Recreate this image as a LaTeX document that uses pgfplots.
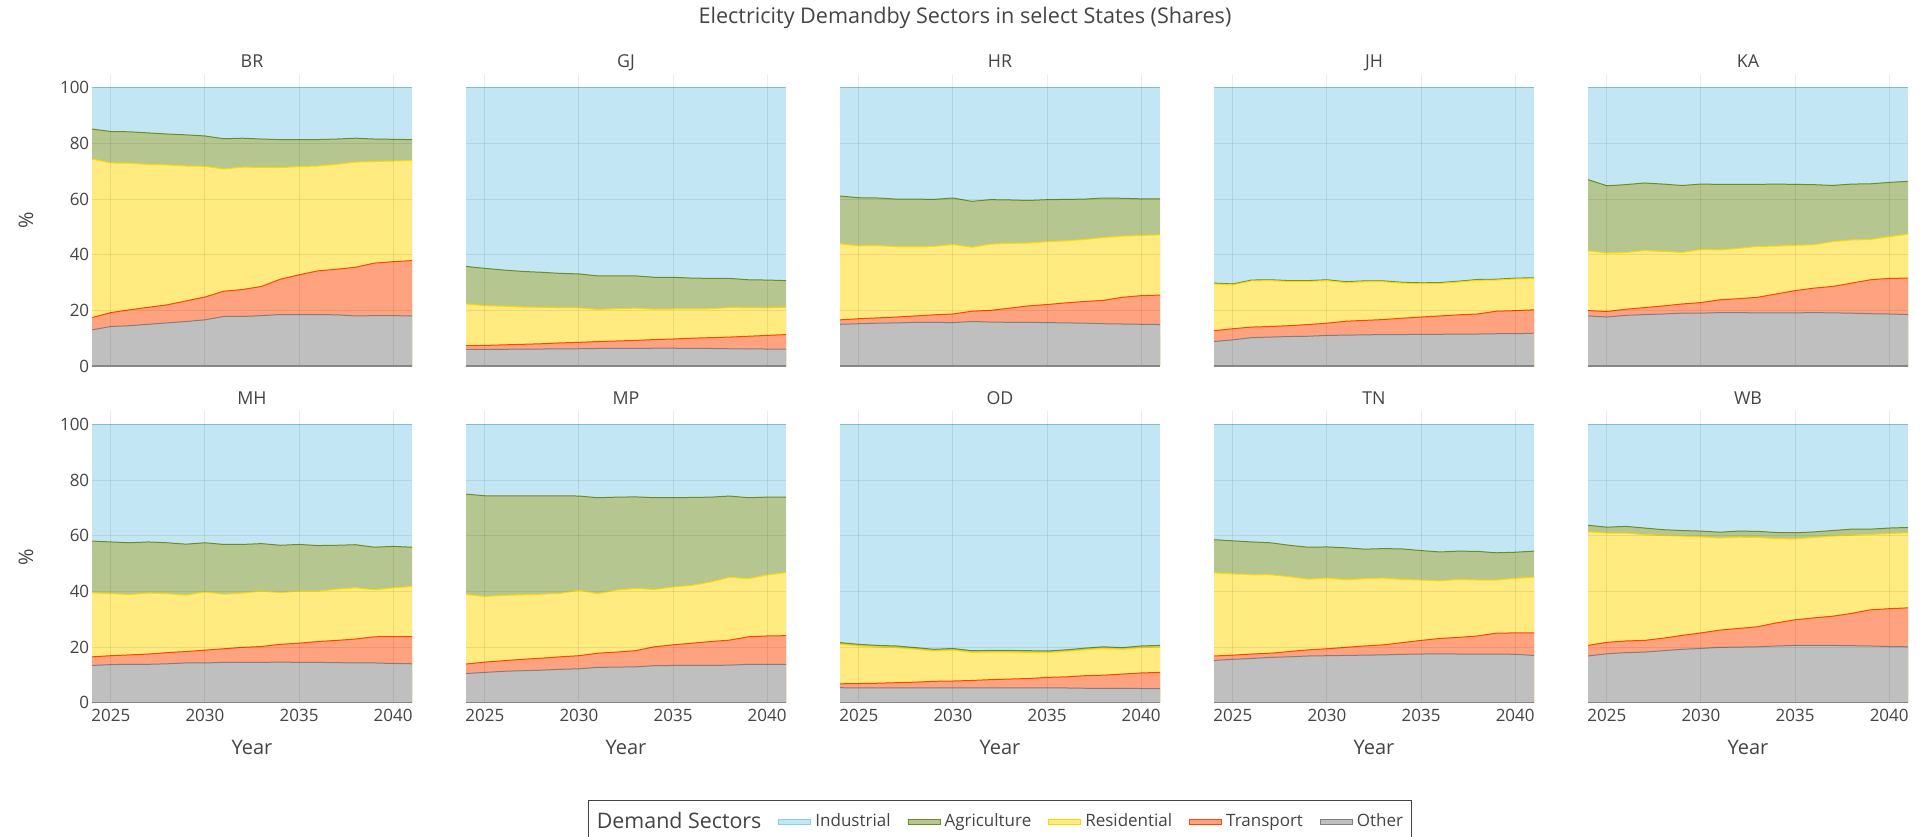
\documentclass[border=0pt]{standalone}
\usepackage{fontspec}
\setmainfont{Open Sans}
\usepackage{pgfplots}
\usepackage{pgfplotstable}
\pgfplotsset{compat=1.18}

\definecolor{indL}{HTML}{87CEEB}
\definecolor{agrL}{HTML}{6B8E23}
\definecolor{resL}{HTML}{FFD700}
\definecolor{traL}{HTML}{FF4500}
\definecolor{othL}{HTML}{808080}
\colorlet{indF}{indL!50!white}
\colorlet{agrF}{agrL!50!white}
\colorlet{resF}{resL!50!white}
\colorlet{traF}{traL!50!white}
\colorlet{othF}{othL!50!white}
\definecolor{txt}{HTML}{444444}

\newcommand{\fs}[1]{\fontsize{#1pt}{#1pt}\selectfont}

% cumulative shares (%): Other, +Transport, +Residential, +Agriculture; Industrial fills to 100
\pgfplotstableread{
yr oth tra res agr
2024 13.0 17.4 74.4 85.2
2025 14.2 19.2 73.0 84.3
2026 14.5 20.2 72.9 84.2
2027 15.0 21.1 72.5 83.8
2028 15.5 22.0 72.3 83.4
2029 16.0 23.4 71.9 83.1
2030 16.6 24.8 71.8 82.7
2031 17.8 26.9 70.8 81.7
2032 17.8 27.5 71.5 81.9
2033 18.1 28.6 71.4 81.6
2034 18.5 31.2 71.3 81.4
2035 18.5 32.8 71.7 81.4
2036 18.5 34.2 71.9 81.4
2037 18.4 34.8 72.5 81.6
2038 18.0 35.5 73.3 81.9
2039 18.1 37.0 73.5 81.6
2040 18.1 37.5 73.7 81.5
2041 18.0 37.9 73.9 81.4
}\BR
\pgfplotstableread{
yr oth tra res agr
2024 6.0 7.3 22.3 35.8
2025 6.0 7.4 21.7 35.1
2026 6.0 7.6 21.5 34.5
2027 6.1 7.8 21.2 34.0
2028 6.1 8.0 21.1 33.7
2029 6.2 8.3 20.9 33.3
2030 6.2 8.5 20.9 33.1
2031 6.3 8.8 20.3 32.4
2032 6.3 9.0 20.6 32.4
2033 6.3 9.2 20.8 32.4
2034 6.4 9.5 20.4 31.9
2035 6.4 9.7 20.5 31.9
2036 6.3 10.0 20.5 31.6
2037 6.3 10.2 20.6 31.5
2038 6.2 10.4 21.0 31.5
2039 6.2 10.7 20.9 31.0
2040 6.1 11.0 20.9 30.9
2041 6.1 11.3 21.1 30.7
}\GJ
\pgfplotstableread{
yr oth tra res agr
2024 15.0 16.6 43.9 61.1
2025 15.2 17.0 43.2 60.5
2026 15.4 17.3 43.3 60.4
2027 15.5 17.6 42.9 60.0
2028 15.7 18.0 42.9 60.0
2029 15.7 18.4 43.0 59.9
2030 15.6 18.7 43.7 60.4
2031 16.0 19.7 42.7 59.2
2032 15.8 20.0 43.8 59.8
2033 15.7 20.8 44.1 59.7
2034 15.7 21.6 44.2 59.5
2035 15.6 22.1 44.7 59.8
2036 15.5 22.7 45.0 59.9
2037 15.4 23.2 45.5 60.0
2038 15.2 23.6 46.2 60.4
2039 15.1 24.7 46.7 60.3
2040 15.0 25.3 46.9 60.1
2041 14.9 25.5 47.2 60.1
}\HR
\pgfplotstableread{
yr oth tra res agr
2024 8.8 12.7 29.5 29.8
2025 9.4 13.4 29.2 29.5
2026 10.2 14.0 30.6 30.9
2027 10.4 14.2 30.7 31.0
2028 10.6 14.5 30.4 30.7
2029 10.7 14.9 30.4 30.7
2030 11.0 15.4 30.7 31.0
2031 11.1 16.1 30.0 30.3
2032 11.2 16.4 30.3 30.6
2033 11.3 16.7 30.3 30.6
2034 11.3 17.2 29.8 30.1
2035 11.4 17.6 29.6 29.9
2036 11.4 18.0 29.7 30.0
2037 11.5 18.4 30.2 30.5
2038 11.5 18.7 30.8 31.1
2039 11.6 19.7 30.9 31.2
2040 11.6 19.9 31.3 31.6
2041 11.8 20.2 31.4 31.7
}\JH
\pgfplotstableread{
yr oth tra res agr
2024 18.0 19.9 41.4 67.0
2025 17.6 19.6 40.6 64.8
2026 18.2 20.4 40.8 65.2
2027 18.5 21.0 41.5 65.8
2028 18.7 21.6 41.2 65.4
2029 19.0 22.3 40.8 64.9
2030 19.0 22.8 41.9 65.4
2031 19.2 23.8 41.7 65.3
2032 19.2 24.2 42.3 65.3
2033 19.1 24.7 43.0 65.3
2034 19.1 25.9 43.1 65.4
2035 19.1 27.1 43.4 65.3
2036 19.2 28.0 43.6 65.2
2037 19.1 28.6 44.7 64.9
2038 19.0 29.8 45.3 65.4
2039 18.8 31.0 45.5 65.5
2040 18.7 31.5 46.5 66.0
2041 18.5 31.6 47.4 66.4
}\KA
\pgfplotstableread{
yr oth tra res agr
2024 13.4 16.5 39.5 58.1
2025 13.7 16.9 39.2 57.8
2026 13.8 17.2 38.9 57.5
2027 13.8 17.5 39.4 57.8
2028 14.0 18.0 39.2 57.5
2029 14.3 18.4 38.7 57.0
2030 14.3 18.9 39.8 57.5
2031 14.5 19.4 39.0 56.9
2032 14.5 19.9 39.4 56.9
2033 14.5 20.2 40.1 57.2
2034 14.6 21.0 39.6 56.6
2035 14.5 21.4 40.1 56.9
2036 14.5 22.0 40.1 56.5
2037 14.4 22.4 40.8 56.6
2038 14.3 22.9 41.3 56.8
2039 14.3 23.7 40.6 55.9
2040 14.1 23.8 41.3 56.2
2041 14.0 23.8 41.8 55.9
}\MH
\pgfplotstableread{
yr oth tra res agr
2024 10.5 13.9 38.9 75.0
2025 10.9 14.6 38.2 74.4
2026 11.3 15.1 38.6 74.4
2027 11.5 15.6 38.8 74.4
2028 11.7 16.0 39.0 74.4
2029 12.0 16.5 39.3 74.4
2030 12.2 16.9 40.4 74.3
2031 12.7 17.8 39.2 73.7
2032 12.8 18.2 40.5 73.9
2033 12.9 18.7 41.1 74.0
2034 13.3 20.1 40.7 73.7
2035 13.4 20.8 41.6 73.7
2036 13.4 21.4 42.2 73.8
2037 13.4 22.0 43.4 73.9
2038 13.5 22.5 45.1 74.3
2039 13.8 23.7 44.6 73.7
2040 13.8 24.0 45.9 73.9
2041 13.8 24.1 46.8 73.9
}\MP
\pgfplotstableread{
yr oth tra res agr
2024 5.4 6.8 21.0 21.6
2025 5.3 6.9 20.4 21.0
2026 5.3 7.0 20.0 20.6
2027 5.3 7.2 19.8 20.4
2028 5.3 7.4 19.2 19.8
2029 5.3 7.7 18.6 19.2
2030 5.3 7.8 18.9 19.5
2031 5.3 8.0 18.1 18.7
2032 5.3 8.3 18.2 18.8
2033 5.3 8.5 18.2 18.8
2034 5.3 8.7 18.1 18.7
2035 5.3 9.1 18.0 18.6
2036 5.3 9.3 18.4 19.0
2037 5.2 9.7 19.0 19.6
2038 5.2 9.9 19.5 20.1
2039 5.2 10.3 19.2 19.8
2040 5.1 10.7 19.8 20.4
2041 5.1 10.9 20.0 20.6
}\OD
\pgfplotstableread{
yr oth tra res agr
2024 15.2 16.8 46.7 58.6
2025 15.6 17.1 46.3 58.2
2026 15.9 17.5 46.1 57.8
2027 16.3 17.8 46.0 57.5
2028 16.5 18.4 45.3 56.6
2029 16.8 19.0 44.4 55.9
2030 16.9 19.4 44.8 56.0
2031 17.0 19.9 44.2 55.7
2032 17.1 20.4 44.6 55.2
2033 17.2 20.8 44.8 55.4
2034 17.4 21.6 44.3 55.3
2035 17.5 22.4 44.1 54.7
2036 17.6 23.1 43.8 54.2
2037 17.5 23.5 44.3 54.5
2038 17.5 24.0 44.1 54.4
2039 17.5 25.0 44.1 53.9
2040 17.4 25.1 44.7 54.1
2041 17.0 25.1 45.1 54.5
}\TN
\pgfplotstableread{
yr oth tra res agr
2024 16.8 20.6 61.4 63.8
2025 17.6 21.7 61.0 63.1
2026 18.0 22.2 61.0 63.4
2027 18.2 22.4 60.4 62.8
2028 18.7 23.2 60.1 62.2
2029 19.2 24.2 59.9 61.9
2030 19.5 25.1 59.6 61.7
2031 19.9 26.1 59.2 61.3
2032 20.0 26.7 59.5 61.7
2033 20.1 27.3 59.4 61.6
2034 20.4 28.7 59.0 61.2
2035 20.6 29.8 58.9 61.1
2036 20.6 30.5 59.4 61.4
2037 20.6 31.1 59.9 61.9
2038 20.5 32.1 60.2 62.4
2039 20.4 33.4 60.5 62.4
2040 20.2 33.8 60.8 62.8
2041 20.1 34.1 61.1 63.0
}\WB

\pgfplotsset{
  panel/.style={
    scale only axis, width=160pt, height=145.75pt,
    xmin=2024, xmax=2041, ymin=0, ymax=104.8,
    xtick={2025,2030,2035,2040}, ytick={0,20,40,60,80,100},
    xticklabels={}, yticklabels={},
    major tick length=0pt,
    axis line style={draw=none},
    grid=major, major grid style={black, opacity=0.08, line width=0.5pt},
    extra y ticks={0}, extra y tick labels={},
    extra y tick style={grid=major, major grid style={draw=othL, opacity=0.9, line width=0.6pt}},
    axis on top, no markers,
    tick label style={font=\fs{8.5}, text=txt},
    xticklabel style={inner sep=0pt, yshift=-3.2pt},
    yticklabel style={inner sep=0pt, xshift=-1.2pt},
    /pgf/number format/assume math mode=true,
    every axis title/.style={at={(0.5,1)}, anchor=base, yshift=3.5pt, font=\fs{8.9}, text=txt},
  },
  leftcol/.style={
    yticklabels={0,20,40,60,80,100},
    ylabel={\%},
    ylabel style={at={(axis description cs:-0.206,0.5)}, anchor=center, font=\fs{10}, text=txt},
  },
  bottomrow/.style={
    xticklabels={2025,2030,2035,2040},
    xlabel={Year},
    xlabel style={at={(axis description cs:0.5,-0.155)}, anchor=center, font=\fs{10}, text=txt},
  },
  swatch/.style={legend image code/.code={\draw[##1] (0pt,-1.3pt) rectangle (16pt,1.3pt);}},
}

% the five stacked areas of one state, then their upper edges
\newcommand{\stack}[1]{%
  \addplot[fill=indF, draw=none, forget plot] coordinates {(2024,100) (2041,100)} \closedcycle;
  \addplot[fill=agrF, draw=none, forget plot] table[x=yr, y=agr] {#1} \closedcycle;
  \addplot[fill=resF, draw=none, forget plot] table[x=yr, y=res] {#1} \closedcycle;
  \addplot[fill=traF, draw=none, forget plot] table[x=yr, y=tra] {#1} \closedcycle;
  \addplot[fill=othF, draw=none, forget plot] table[x=yr, y=oth] {#1} \closedcycle;
  \addplot[indL, line width=0.6pt, forget plot] coordinates {(2024,100) (2041,100)};
  \addplot[agrL, line width=0.5pt, forget plot] table[x=yr, y=agr] {#1};
  \addplot[resL, line width=0.5pt, forget plot] table[x=yr, y=res] {#1};
  \addplot[traL, line width=0.5pt, forget plot] table[x=yr, y=tra] {#1};
  \addplot[othL, line width=0.5pt, forget plot] table[x=yr, y=oth] {#1};
}

\begin{document}
\begin{tikzpicture}
\path[use as bounding box] (0pt,0pt) rectangle (960.5pt,-418pt);

\node[font=\fs{10.8}, text=txt] at (482.5pt,-9pt) {Electricity Demandby Sectors in select States (Shares)};

% first row
\begin{axis}[panel, leftcol, title={BR}, at={(46pt,-183pt)}, anchor=south west]
\stack{\BR}
\end{axis}
\begin{axis}[panel, title={GJ}, at={(233pt,-183pt)}, anchor=south west]
\stack{\GJ}
\end{axis}
\begin{axis}[panel, title={HR}, at={(420pt,-183pt)}, anchor=south west]
\stack{\HR}
\end{axis}
\begin{axis}[panel, title={JH}, at={(607pt,-183pt)}, anchor=south west]
\stack{\JH}
\end{axis}
\begin{axis}[panel, title={KA}, at={(794pt,-183pt)}, anchor=south west]
\stack{\KA}
\end{axis}

% second row
\begin{axis}[panel, leftcol, bottomrow, title={MH}, at={(46pt,-351.35pt)}, anchor=south west]
\stack{\MH}
\end{axis}
\begin{axis}[panel, bottomrow, title={MP}, at={(233pt,-351.35pt)}, anchor=south west]
\stack{\MP}
\end{axis}
\begin{axis}[panel, bottomrow, title={OD}, at={(420pt,-351.35pt)}, anchor=south west,
  legend columns=6, legend cell align=left,
  legend style={at={(axis description cs:0.5,-0.333)}, anchor=north,
    draw=txt, line width=0.5pt, font=\fs{8.5}, text=txt,
    inner xsep=2pt, inner ysep=4pt,
    /tikz/every even column/.append style={column sep=6.5pt}}]
\stack{\OD}
\addlegendimage{empty legend}
\addlegendentry{{\fs{10.7}Demand Sectors}}
\addlegendimage{swatch, fill=indF, draw=indL}
\addlegendentry{Industrial}
\addlegendimage{swatch, fill=agrF, draw=agrL}
\addlegendentry{Agriculture}
\addlegendimage{swatch, fill=resF, draw=resL}
\addlegendentry{Residential}
\addlegendimage{swatch, fill=traF, draw=traL}
\addlegendentry{Transport}
\addlegendimage{swatch, fill=othF, draw=othL}
\addlegendentry{Other}
\end{axis}
\begin{axis}[panel, bottomrow, title={TN}, at={(607pt,-351.35pt)}, anchor=south west]
\stack{\TN}
\end{axis}
\begin{axis}[panel, bottomrow, title={WB}, at={(794pt,-351.35pt)}, anchor=south west]
\stack{\WB}
\end{axis}
\end{tikzpicture}
\end{document}
